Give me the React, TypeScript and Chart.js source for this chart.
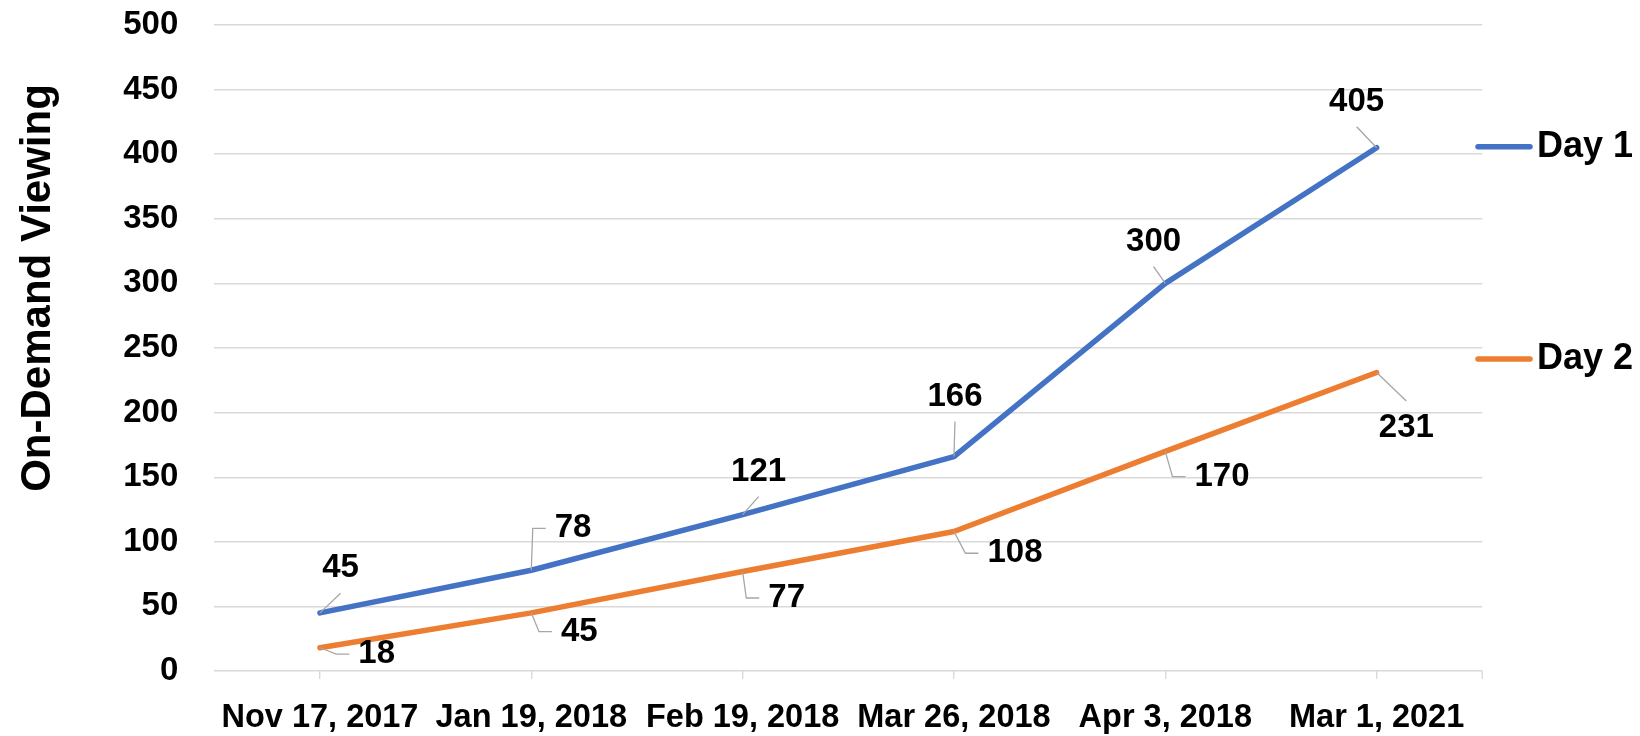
import React, { useEffect, useRef } from 'react';
import { Chart, registerables } from 'chart.js';

Chart.register(...registerables);

// ---- data ----
const categories = ['Nov 17, 2017', 'Jan 19, 2018', 'Feb 19, 2018', 'Mar 26, 2018', 'Apr 3, 2018', 'Mar 1, 2021'];
const day1 = [45, 78, 121, 166, 300, 405];
const day2 = [18, 45, 77, 108, 170, 231];
const seriesNames = ['Day 1', 'Day 2'];
const yAxisTitle = 'On-Demand Viewing';
const yMin = 0;
const yMax = 500;
const yStep = 50;

// ---- label placement (offset of label centre from its point, leader style) ----
const day1LabelPlacement: [number, number, string][] = [
  [20.6, -44.6, 'end'],
  [41.8, -41.9, 'side'],
  [16, -43, 'end'],
  [1, -60, 'end'],
  [-11.7, -41.7, 'end'],
  [-20, -46, 'end'],
];
const day2LabelPlacement: [number, number, string][] = [
  [56.7, 6.3, 'side'],
  [48, 18.8, 'side'],
  [44, 26.5, 'side'],
  [61, 21.8, 'side'],
  [56.7, 25.3, 'side'],
  [29.7, 55.5, 'end'],
];

const BLUE = '#4472C4';
const ORANGE = '#ED7D31';
const GRID = '#D9D9D9';
const LEADER = '#A6A6A6';
const FONT = '"Liberation Sans", Arial, sans-serif';

const dataLabelsPlugin = {
  id: 'dataLabelsLeaders',
  afterDatasetsDraw(chart: any) {
    const ctx = chart.ctx;
    const placements = [day1LabelPlacement, day2LabelPlacement];
    ctx.save();
    ctx.font = `bold 33px ${FONT}`;
    chart.data.datasets.forEach((ds: any, i: number) => {
      const meta = chart.getDatasetMeta(i);
      meta.data.forEach((pt: any, j: number) => {
        const [dx, dy, kind] = placements[i][j];
        const text = String(ds.data[j]);
        const w = ctx.measureText(text).width;
        const lx = pt.x + dx;
        const ly = pt.y + dy;
        ctx.strokeStyle = LEADER;
        ctx.lineWidth = 1.3;
        ctx.beginPath();
        ctx.moveTo(pt.x, pt.y);
        if (kind === 'side') {
          const dir = dx > 0 ? 1 : -1;
          const edge = lx - dir * w / 2;
          const tailEnd = edge - dir * 9;
          const elbow = tailEnd - dir * 13;
          ctx.lineTo(elbow, ly);
          ctx.lineTo(tailEnd, ly);
        } else {
          const endY = ly + (dy < 0 ? 25 : -27);
          ctx.lineTo(lx, endY);
        }
        ctx.stroke();
        ctx.fillStyle = '#000';
        ctx.textAlign = 'center';
        ctx.textBaseline = 'middle';
        ctx.fillText(text, lx, ly);
      });
    });
    ctx.restore();
  },
};

const extrasPlugin = {
  id: 'extras',
  afterDraw(chart: any) {
    const ctx = chart.ctx;
    const area = chart.chartArea;
    ctx.save();
    // right-edge tick mark
    ctx.strokeStyle = GRID;
    ctx.lineWidth = 1.4;
    ctx.beginPath();
    ctx.moveTo(area.right, area.bottom);
    ctx.lineTo(area.right, area.bottom + 8);
    ctx.stroke();

    // y axis title
    ctx.fillStyle = '#000';
    ctx.font = `bold 42px ${FONT}`;
    ctx.translate(50, 288);
    ctx.rotate(-Math.PI / 2);
    ctx.textAlign = 'center';
    ctx.textBaseline = 'alphabetic';
    ctx.fillText(yAxisTitle, 0, 0);
    ctx.restore();

    // legend
    ctx.save();
    const legendX = 1476;
    const legendY0 = 146.7;
    const legendGap = 212.3;
    chart.data.datasets.forEach((ds: any, i: number) => {
      const y = legendY0 + i * legendGap;
      ctx.strokeStyle = ds.borderColor;
      ctx.lineWidth = 5.5;
      ctx.lineCap = 'round';
      ctx.beginPath();
      ctx.moveTo(legendX + 2, y);
      ctx.lineTo(legendX + 54, y);
      ctx.stroke();
      ctx.fillStyle = '#000';
      ctx.font = `bold 36px ${FONT}`;
      ctx.textAlign = 'left';
      ctx.textBaseline = 'middle';
      ctx.fillText(ds.label, legendX + 61, y);
    });
    ctx.restore();
  },
};

export default function App() {
  const ref = useRef<HTMLCanvasElement | null>(null);
  useEffect(() => {
    if (!ref.current) return;
    const chart = new Chart(ref.current, {
      type: 'line',
      data: {
        labels: categories,
        datasets: [
          {
            label: seriesNames[0],
            data: day1,
            borderColor: BLUE,
            backgroundColor: BLUE,
            borderWidth: 5.5,
            pointRadius: 0,
            borderCapStyle: 'round',
            borderJoinStyle: 'round',
            tension: 0,
          },
          {
            label: seriesNames[1],
            data: day2,
            borderColor: ORANGE,
            backgroundColor: ORANGE,
            borderWidth: 5.5,
            pointRadius: 0,
            borderCapStyle: 'round',
            borderJoinStyle: 'round',
            tension: 0,
          },
        ],
      },
      options: {
        animation: false,
        responsive: false,
        maintainAspectRatio: false,
        layout: { padding: { left: 0, top: 25, right: 157.7, bottom: 0 } },
        plugins: {
          legend: { display: false },
          tooltip: { enabled: false },
          title: { display: false },
        },
        scales: {
          x: {
            offset: true,
            grid: {
              display: true,
              offset: false,
              drawOnChartArea: false,
              drawTicks: true,
              tickLength: 8,
              color: GRID,
              lineWidth: 1.4,
            },
            border: { display: false },
            ticks: {
              color: '#000',
              font: { family: FONT, size: 32.5, weight: 'bold' },
              padding: 20,
              maxRotation: 0,
              minRotation: 0,
              autoSkip: false,
            },
            afterFit(scale: any) {
              scale.height = 65;
            },
          },
          y: {
            min: yMin,
            max: yMax,
            grid: { color: GRID, lineWidth: 1.4, drawTicks: false },
            border: { display: false },
            ticks: {
              stepSize: yStep,
              color: '#000',
              font: { family: FONT, size: 33, weight: 'bold' },
              padding: 36,
            },
            afterFit(scale: any) {
              scale.width = 214.3;
              scale.paddingTop = 20;
              scale.paddingBottom = 20;
            },
          },
        },
      },
      plugins: [dataLabelsPlugin, extrasPlugin],
    });
    return () => chart.destroy();
  }, []);

  return (
    <div style={{ position: 'fixed', left: 0, top: 0, width: 1640, height: 736, background: '#fff' }}>
      <canvas ref={ref} width={1640} height={736} style={{ width: 1640, height: 736, display: 'block' }} />
    </div>
  );
}
